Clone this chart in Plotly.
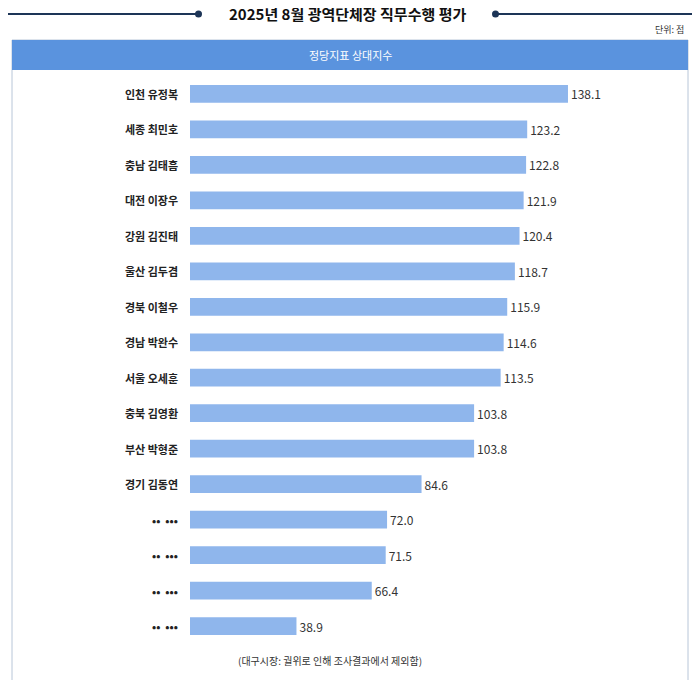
import plotly.graph_objects as go

names = ["인천 유정복", "세종 최민호", "충남 김태흠", "대전 이장우", "강원 김진태", "울산 김두겸",
         "경북 이철우", "경남 박완수", "서울 오세훈", "충북 김영환", "부산 박형준", "경기 김동연",
         "**  ***", "**  ***", "**  ***", "**  ***"]
values = [138.1, 123.2, 122.8, 121.9, 120.4, 118.7, 115.9, 114.6, 113.5, 103.8, 103.8, 84.6,
          72.0, 71.5, 66.4, 38.9]

# page body has an 8px margin, so the figure is a bit smaller than the window
W, H = 684, 672
FONT = "Noto Sans CJK KR"
NAVY = "#1d3557"


def px(x):
    return (x - 8) / W


def py(y):
    return 1 - (y - 8) / H


labels = [n.replace("*", "•") for n in names]
ids = list(range(len(values)))

fig = go.Figure(
    go.Bar(
        x=values,
        y=ids,
        orientation="h",
        width=0.5,
        marker=dict(color="#8fb6ec", line=dict(width=0)),
        text=[f"{v:.1f}" for v in values],
        textposition="outside",
        cliponaxis=False,
        textfont=dict(size=12, color="#333", family=FONT),
    )
)

shapes = [
    dict(type="rect", xref="paper", yref="paper", x0=px(12), x1=px(688), y0=py(685), y1=py(40),
         line=dict(color="#b8c6d8", width=1), fillcolor="white", layer="below"),
    dict(type="rect", xref="paper", yref="paper", x0=px(12), x1=px(688), y0=py(70), y1=py(40),
         line=dict(width=0), fillcolor="#5a93de", layer="below"),
    dict(type="line", xref="paper", yref="paper", x0=px(8), x1=px(198), y0=py(14), y1=py(14),
         line=dict(color=NAVY, width=2)),
    dict(type="line", xref="paper", yref="paper", x0=px(495), x1=px(692), y0=py(14), y1=py(14),
         line=dict(color=NAVY, width=2)),
    dict(type="circle", xref="paper", yref="paper", x0=px(195), x1=px(202), y0=py(17.5), y1=py(10.5),
         fillcolor=NAVY, line=dict(width=0)),
    dict(type="circle", xref="paper", yref="paper", x0=px(492), x1=px(499), y0=py(17.5), y1=py(10.5),
         fillcolor=NAVY, line=dict(width=0)),
]

annotations = [
    dict(text="<b>2025년 8월 광역단체장 직무수행 평가</b>", x=px(347), y=py(14), xanchor="center",
         font=dict(size=15, color="#111", family=FONT)),
    dict(text="단위: 점", x=px(686), y=py(30), xanchor="right",
         font=dict(size=9, color="#333", family=FONT)),
    dict(text="정당지표 상대지수", x=px(350), y=py(55), xanchor="center",
         font=dict(size=11, color="white", family=FONT)),
    dict(text="(대구시장: 궐위로 인해 조사결과에서 제외함)", x=px(330), y=py(660), xanchor="center",
         font=dict(size=10, color="#333", family=FONT)),
]
for a in annotations:
    a.update(xref="paper", yref="paper", yanchor="middle", showarrow=False)
for i, lab in enumerate(labels):
    annotations.append(dict(text=f"<b>{lab}</b>", x=px(180), y=i, xref="paper", yref="y",
                            xanchor="right", yanchor="middle", showarrow=False,
                            font=dict(size=11, color="#222", family=FONT)))

fig.update_layout(
    width=W, height=H,
    margin=dict(l=0, r=0, t=0, b=0),
    paper_bgcolor="white", plot_bgcolor="rgba(0,0,0,0)",
    showlegend=False,
    font=dict(family=FONT),
    xaxis=dict(domain=[px(190), px(190 + 180 * 2.737)], range=[0, 180], visible=False),
    yaxis=dict(domain=[py(643.75), py(76.25)], range=[15.5, -0.5], visible=False),
    shapes=shapes,
    annotations=annotations,
)

fig.write_html("out.html")
